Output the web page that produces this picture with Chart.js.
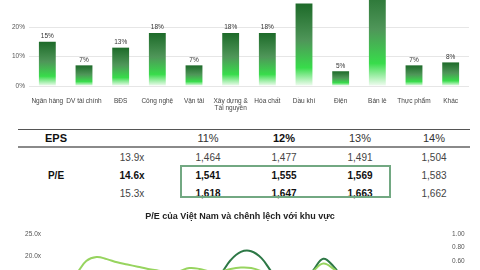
<!DOCTYPE html>
<html>
<head>
<meta charset="utf-8">
<script src="https://cdn.jsdelivr.net/npm/chart.js@4.4.1/dist/chart.umd.min.js"></script>
<style>
  html,body{margin:0;padding:0;background:#fff;}
  body{width:480px;height:270px;overflow:hidden;position:relative;font-family:"Liberation Sans",Arial,sans-serif;}
  #barBox{position:absolute;left:0;top:-40px;width:480px;height:160px;}
  #lineBox{position:absolute;left:0;top:205px;width:480px;height:150px;}
  #eps{position:absolute;left:18px;top:129px;width:452px;border-collapse:collapse;table-layout:fixed;
       border-top:1px solid #555;color:#333;}
  #eps th,#eps td{padding:0;text-align:center;white-space:nowrap;}
  #eps th{height:16px;font-size:11px;font-weight:normal;border-bottom:2px solid #8a8a8a;}
  #eps th.b,#eps td.b{font-weight:bold;color:#111;}
  #eps td{height:18px;font-size:10px;color:#444;}
  #box{position:absolute;left:180px;top:165px;width:207px;height:29px;border:2px solid #72a882;}
</style>
</head>
<body>
<div id="barBox"><canvas id="bars" width="480" height="160"></canvas></div>
<table id="eps"></table>
<div id="box"></div>
<div id="lineBox"><canvas id="lines" width="480" height="150"></canvas></div>
<script>
// ---- sector bar chart ----
const sectors = ['Ngân hàng','DV tài chính','BĐS','Công nghệ','Vận tải',['Xây dựng &','Tài nguyên'],
                 'Hóa chất','Dầu khí','Điện','Bán lẻ','Thực phẩm','Khác'];
const sectorGrowth = [15,7,13,18,7,18,18,28,5,35,7,8];

// ---- EPS / PE table ----
const epsGrowth = ['11%','12%','13%','14%'];
const peLevels = ['13.9x','14.6x','15.3x'];
const epsRows = [
  [1464,1477,1491,1504],
  [1541,1555,1569,1583],
  [1618,1647,1663,1662]
];

// ---- PE line chart ----
const periods = ['Q1/14','Q2/14','Q3/14','Q4/14','Q1/15','Q2/15','Q3/15','Q4/15','Q1/16','Q2/16',
                 'Q3/16','Q4/16','Q1/17','Q2/17','Q3/17','Q4/17','Q1/18','Q2/18','Q3/18','Q4/18',
                 'Q1/19','Q2/19','Q3/19','Q4/19','Q1/20','Q2/20','Q3/20','Q4/20','Q1/21','Q2/21',
                 'Q3/21','Q4/21','Q1/22','Q2/22','Q3/22','Q4/22','Q1/23','Q2/23','Q3/23','Q4/23'];
const peVietnam = [13.0,14.0,14.8,16.0,18.9,19.8,19.3,18.6,18.1,17.6,
                   17.1,16.7,16.3,16.6,17.3,17.1,16.5,16.5,17.1,17.4,
                   17.3,16.6,15.5,14.6,14.2,14.8,16.6,18.3,17.1,15.2,
                   14.5,14.0,13.8,14.2,14.6,15.0,15.4,15.1,14.8,15.0];
const peGap = [0.30,0.28,0.25,0.27,0.30,0.32,0.30,0.28,0.26,0.25,
               0.24,0.26,0.28,0.30,0.32,0.34,0.35,0.42,0.62,0.74,
               0.75,0.65,0.45,0.30,0.25,0.30,0.47,0.64,0.53,0.35,
               0.30,0.28,0.26,0.27,0.29,0.30,0.28,0.27,0.26,0.25];

Chart.defaults.font.family = '"Liberation Sans", Arial, sans-serif';
Chart.defaults.animation = false;

// build table
(function(){
  const t = document.getElementById('eps');
  let h = '<colgroup><col style="width:76px"><col style="width:76px"><col style="width:76px"><col style="width:76px"><col style="width:76px"><col style="width:72px"></colgroup>';
  h += '<thead><tr><th class="b">EPS</th><th></th>';
  epsGrowth.forEach((g,i)=>{ h += '<th' + (i===1?' class="b"':'') + '>' + g + '</th>'; });
  h += '</tr></thead><tbody>';
  epsRows.forEach((row,r)=>{
    h += '<tr><td class="b">' + (r===1?'P/E':'') + '</td>';
    h += '<td' + (r===1?' class="b"':'') + '>' + peLevels[r] + '</td>';
    row.forEach((v,c)=>{
      const bold = r>0 && c<3;
      h += '<td' + (bold?' class="b"':'') + '>' + v.toLocaleString('en-US') + '</td>';
    });
    h += '</tr>';
  });
  t.innerHTML = h + '</tbody>';
})();

const valueLabels = {
  id:'valueLabels',
  afterDatasetsDraw(chart){
    const c = chart.ctx;
    c.save();
    c.font = '6.5px "Liberation Sans", Arial, sans-serif';
    c.fillStyle = '#333';
    c.textAlign = 'center';
    c.textBaseline = 'bottom';
    chart.getDatasetMeta(0).data.forEach((bar,i)=>{
      c.fillText(sectorGrowth[i] + '%', bar.x, bar.y - 2);
    });
    c.restore();
  }
};

new Chart(document.getElementById('bars'),{
  type:'bar',
  data:{
    labels:sectors,
    datasets:[{
      data:sectorGrowth,
      barPercentage:0.46,
      categoryPercentage:1,
      backgroundColor:function(ctx){
        const chart = ctx.chart;
        if(!chart.chartArea) return '#2a7a35';
        const y = chart.scales.y;
        const top = y.getPixelForValue(ctx.raw);
        const base = y.getPixelForValue(0);
        const g = chart.ctx.createLinearGradient(0, top, 0, base);
        g.addColorStop(0, '#1d6a29');
        g.addColorStop(0.45, '#4f9659');
        g.addColorStop(0.78, '#38dc4b');
        g.addColorStop(1, '#f2fcf2');
        return g;
      }
    }]
  },
  options:{
    responsive:false,
    devicePixelRatio:1,
    layout:{padding:{top:8,right:11,left:0,bottom:0}},
    plugins:{legend:{display:false},tooltip:{enabled:false}},
    scales:{
      x:{
        grid:{display:false},
        border:{display:false},
        ticks:{color:'#444',font:{size:6.5},padding:3,maxRotation:0,autoSkip:false},
        afterFit(s){ s.height = 34; }
      },
      y:{
        min:0,max:40,
        grid:{color:'#e6e6e6',drawTicks:false},
        border:{display:false},
        ticks:{stepSize:10,color:'#555',font:{size:6.5},padding:4,callback:v=>v+'%'},
        afterFit(s){ s.width = 29; }
      }
    }
  },
  plugins:[valueLabels]
});

new Chart(document.getElementById('lines'),{
  type:'line',
  data:{
    labels:periods,
    datasets:[
      {label:'P/E Việt Nam',data:peVietnam,yAxisID:'y',borderColor:'#97d45f',borderWidth:2,pointRadius:0,tension:0.4},
      {label:'Chênh lệch',data:peGap,yAxisID:'y1',borderColor:'#2d7846',borderWidth:2,pointRadius:0,tension:0.4}
    ]
  },
  options:{
    responsive:false,
    devicePixelRatio:1,
    layout:{padding:{bottom:10}},
    plugins:{
      legend:{display:false},
      tooltip:{enabled:false},
      title:{display:true,text:'P/E của Việt Nam và chênh lệch với khu vực',color:'#222',
             font:{size:9,weight:'bold'},padding:{top:6,bottom:12}}
    },
    scales:{
      x:{display:false},
      y:{
        position:'left',min:0,max:25,
        grid:{display:false,drawTicks:false},
        border:{display:false},
        ticks:{stepSize:5,color:'#555',font:{size:6.5},padding:4,callback:v=>v.toFixed(1)+'x'},
        afterFit(s){ s.width = 45; }
      },
      y1:{
        position:'right',min:-0.6,max:1.0,
        grid:{display:false,drawTicks:false},
        border:{display:false},
        ticks:{stepSize:0.2,color:'#555',font:{size:6.5},padding:5,callback:v=>v.toFixed(2)},
        afterFit(s){ s.width = 33; }
      }
    }
  }
});
</script>
</body>
</html>
